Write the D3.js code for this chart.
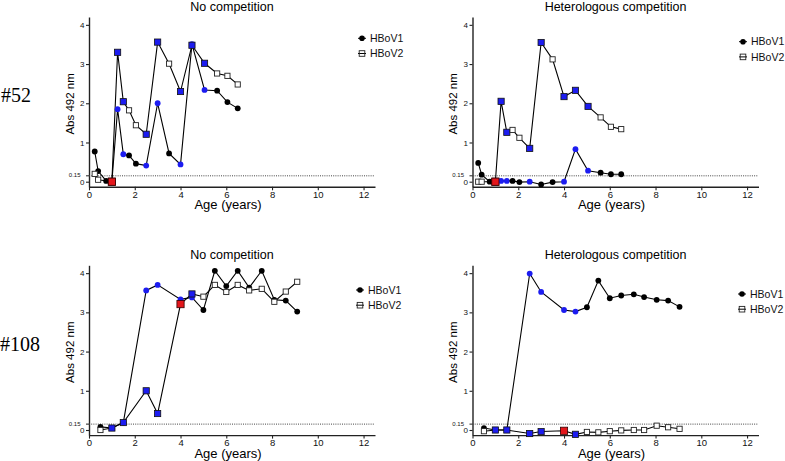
<!DOCTYPE html>
<html><head><meta charset="utf-8">
<script src="https://cdn.jsdelivr.net/npm/d3@7"></script>
<style>body{margin:0;background:#fff}svg{display:block}</style>
</head><body>
<svg id="c" width="785" height="461"></svg>
<script>
// ---- data ----
const xTicks = [0, 2, 4, 6, 8, 10, 12];
const yTicks = [0, 1, 2, 3, 4];
const cutoff = 0.15;
const seriesNames = ["HBoV1", "HBoV2"];
const rowLabels = ["#52", "#108"];
const panelTitles = ["No competition", "Heterologous competition"];
// status codes: k = base, u = blue (rise), r = red (infection)
const a1x = [0.25, 0.4, 0.75, 1.0, 1.25, 1.5, 1.75, 2.05, 2.5, 3.0, 3.5, 4.0, 4.5, 5.05, 5.6, 6.05, 6.5];
const a1y = [0.77, 0.27, 0.02, 0.0, 1.85, 0.70, 0.67, 0.46, 0.41, 2.0, 0.72, 0.44, 3.51, 2.34, 2.32, 2.03, 1.87];
const a1s = ["k","k","k","r","u","u","k","k","u","u","k","u","u","u","k","k","k"];
const a2x = [0.25, 0.4, 1.0, 1.25, 1.5, 1.75, 2.05, 2.5, 3.0, 3.5, 4.0, 4.5, 5.05, 5.6, 6.05, 6.5];
const a2y = [0.2, 0.05, 0.0, 3.3, 2.04, 1.82, 1.44, 1.21, 3.56, 3.01, 2.3, 3.48, 3.02, 2.76, 2.7, 2.48];
const a2s = ["k","k","r","u","u","k","k","u","u","k","u","u","u","k","k","k"];
const b1x = [0.25, 0.4, 0.75, 1.0, 1.25, 1.5, 1.75, 2.05, 2.5, 3.0, 3.5, 4.0, 4.5, 5.05, 5.6, 6.05, 6.5];
const b1y = [0.48, 0.18, 0.0, 0.0, 0.02, 0.02, 0.02, -0.01, 0.0, -0.07, -0.01, 0.0, 0.83, 0.28, 0.23, 0.19, 0.19];
const b1s = ["k","k","k","r","u","u","k","k","u","k","k","u","u","u","k","k","k"];
const b2x = [0.25, 0.4, 1.0, 1.25, 1.5, 1.75, 2.05, 2.5, 3.0, 3.5, 4.0, 4.5, 5.05, 5.6, 6.05, 6.5];
const b2y = [0.0, 0.0, 0.0, 2.05, 1.26, 1.32, 1.12, 0.85, 3.55, 3.12, 2.17, 2.33, 1.92, 1.64, 1.40, 1.34];
const b2s = ["k","k","r","u","u","k","k","u","u","k","u","u","u","k","k","k"];
const c1x = [0.5, 1.0, 1.5, 2.5, 3.0, 4.0, 4.5, 5.0, 5.5, 6.0, 6.5, 7.0, 7.55, 8.1, 8.6, 9.1];
const c1y = [0.08, 0.05, 0.19, 3.56, 3.7, 3.33, 3.38, 3.06, 4.06, 3.67, 4.06, 3.63, 4.06, 3.32, 3.3, 3.02];
const c1s = ["k","k","k","u","u","u","u","k","k","k","k","k","k","k","k","k"];
const c2x = [0.5, 1.0, 1.5, 2.5, 3.0, 4.0, 4.5, 5.0, 5.5, 6.0, 6.5, 7.0, 7.55, 8.1, 8.6, 9.1];
const c2y = [0.0, 0.05, 0.19, 1.0, 0.42, 3.21, 3.47, 3.4, 3.7, 3.52, 3.7, 3.56, 3.6, 3.27, 3.53, 3.78];
const c2s = ["k","u","u","u","u","r","u","k","k","k","k","k","k","k","k","k"];
const d1x = [0.5, 1.0, 1.5, 2.5, 3.0, 4.0, 4.5, 5.0, 5.5, 6.0, 6.5, 7.05, 7.5, 8.05, 8.55, 9.05];
const d1y = [0.05, 0.0, 0.0, 3.99, 3.52, 3.06, 3.02, 3.13, 3.81, 3.36, 3.43, 3.46, 3.39, 3.32, 3.3, 3.14];
const d1s = ["k","k","k","u","u","u","u","k","k","k","k","k","k","k","k","k"];
const d2x = [0.5, 1.0, 1.5, 2.5, 3.0, 4.0, 4.5, 5.0, 5.5, 6.0, 6.5, 7.05, 7.5, 8.05, 8.55, 9.05];
const d2y = [-0.03, 0.0, 0.0, -0.09, -0.04, -0.02, -0.11, -0.05, -0.06, -0.03, -0.01, 0.0, 0.0, 0.11, 0.07, 0.03];
const d2s = ["k","u","u","u","u","r","u","k","k","k","k","k","k","k","k","k"];

// ---- layout ----
const panels = [
  {row:0, col:0, s:[[a1x,a1y,a1s],[a2x,a2y,a2s]], xr:[89,375], yr:[186.8,17], leg:[362,38.3]},
  {row:0, col:1, s:[[b1x,b1y,b1s],[b2x,b2y,b2s]], xr:[472.5,758.5], yr:[186.8,17], leg:[743,41.7]},
  {row:1, col:0, s:[[c1x,c1y,c1s],[c2x,c2y,c2s]], xr:[89,375], yr:[435.1,265.3], leg:[360,290]},
  {row:1, col:1, s:[[d1x,d1y,d1s],[d2x,d2y,d2s]], xr:[472.5,758.5], yr:[435.1,265.3], leg:[742,294]}
];
const svg = d3.select("#c");
const font = "Liberation Sans, Arial, sans-serif";
const blue = "#1c1cf0", red = "#e3161b";

// row labels
svg.append("text").attr("x",1).attr("y",101.5).text(rowLabels[0])
  .attr("font-family","Liberation Serif, Times New Roman, serif").attr("font-size",20);
svg.append("text").attr("x",0).attr("y",350.5).text(rowLabels[1])
  .attr("font-family","Liberation Serif, Times New Roman, serif").attr("font-size",20);

panels.forEach(p => {
  const g = svg.append("g");
  const x = d3.scaleLinear().domain([0,12.5]).range(p.xr);
  const y = d3.scaleLinear().domain([-0.13,4.2]).range(p.yr);
  const base = p.yr[0];
  // title
  g.append("text").attr("x",(p.xr[0]+p.xr[1])/2).attr("y", p.row===0?11:259)
    .attr("text-anchor","middle").attr("font-family",font).attr("font-size",12.5)
    .text(panelTitles[p.col]);
  // x axis
  const xa = g.append("g").attr("transform",`translate(0,${base})`)
    .call(d3.axisBottom(x).tickValues(xTicks).tickFormat(d3.format("d")).tickSize(3.5).tickSizeOuter(0).tickPadding(1));
  xa.select(".domain").attr("stroke","#222").attr("stroke-width",1.4);
  xa.selectAll(".tick line").attr("stroke","#222").attr("stroke-width",1.1);
  xa.selectAll("text").attr("font-family",font).attr("font-size",9.5).attr("fill","#111");
  // y axis
  const ya = g.append("g").attr("transform",`translate(${p.xr[0]},0)`)
    .call(d3.axisLeft(y).tickValues(yTicks).tickFormat(d3.format("d")).tickSize(3).tickSizeOuter(0).tickPadding(1.5));
  ya.select(".domain").attr("stroke","#222").attr("stroke-width",1.4);
  ya.selectAll(".tick line").attr("stroke","#222").attr("stroke-width",1.1);
  ya.selectAll("text").attr("font-family",font).attr("font-size",8).attr("fill","#111");
  // cutoff tick + label
  g.append("line").attr("x1",p.xr[0]-3).attr("x2",p.xr[0]).attr("y1",y(cutoff)).attr("y2",y(cutoff))
    .attr("stroke","#222").attr("stroke-width",1);
  g.append("text").attr("x",p.xr[0]-8.5).attr("y",y(cutoff)+1.5).attr("text-anchor","end")
    .attr("font-family",font).attr("font-size",6).attr("fill","#111").text(String(cutoff));
  g.append("line").attr("x1",p.xr[0]).attr("x2",p.xr[1]).attr("y1",y(cutoff)).attr("y2",y(cutoff))
    .attr("stroke","#444").attr("stroke-width",1).attr("stroke-dasharray","1,1.2");
  // axis labels
  g.append("text").attr("x",(p.xr[0]+p.xr[1])/2 - 4).attr("y",base+22.5).attr("text-anchor","middle")
    .attr("font-family",font).attr("font-size",13).text("Age (years)");
  g.append("text").attr("transform",`translate(${p.xr[0]-15.5},${(p.yr[0]+p.yr[1])/2+2}) rotate(-90)`)
    .attr("text-anchor","middle").attr("font-family",font).attr("font-size",11.5).text("Abs 492 nm");
  // series lines
  const line = d3.line().x(d=>x(d[0])).y(d=>y(d[1]));
  p.s.forEach(([xs,ys]) => {
    g.append("path").datum(xs.map((v,i)=>[v,ys[i]])).attr("d",line)
      .attr("fill","none").attr("stroke","#000").attr("stroke-width",1.1);
  });
  // markers
  p.s.forEach(([xs,ys,ss],si) => {
    xs.forEach((v,i) => {
      const cx = x(v), cy = y(ys[i]), st = ss[i];
      if (st === "r") {
        g.append("rect").attr("x",cx-3.6).attr("y",cy-3.6).attr("width",7.2).attr("height",7.2)
          .attr("fill",red).attr("stroke","#300").attr("stroke-width",0.8);
      } else if (si === 0) {
        g.append("circle").attr("cx",cx).attr("cy",cy).attr("r",2.9)
          .attr("fill", st==="u"?blue:"#000");
      } else if (st === "u") {
        g.append("rect").attr("x",cx-3.1).attr("y",cy-3.1).attr("width",6.2).attr("height",6.2)
          .attr("fill",blue).attr("stroke","#111").attr("stroke-width",0.8);
      } else {
        g.append("rect").attr("x",cx-2.6).attr("y",cy-2.6).attr("width",5.2).attr("height",5.2)
          .attr("fill","#fff").attr("stroke","#222").attr("stroke-width",0.9);
      }
    });
  });
  // legend
  const [lx,ly] = p.leg;
  seriesNames.forEach((n,i) => {
    const yy = ly + i*15.2;
    g.append("line").attr("x1",lx-4).attr("x2",lx+4).attr("y1",yy).attr("y2",yy)
      .attr("stroke","#000").attr("stroke-width",1);
    if (i===0) g.append("circle").attr("cx",lx).attr("cy",yy).attr("r",2.8).attr("fill","#000");
    else g.append("rect").attr("x",lx-2.8).attr("y",yy-2.8).attr("width",5.6).attr("height",5.6)
      .attr("fill","none").attr("stroke","#222").attr("stroke-width",0.9);
    g.append("text").attr("x",lx+8).attr("y",yy+3.6).attr("font-family",font).attr("font-size",10.5)
      .attr("fill","#111").text(n);
  });
});
</script>
</body></html>
